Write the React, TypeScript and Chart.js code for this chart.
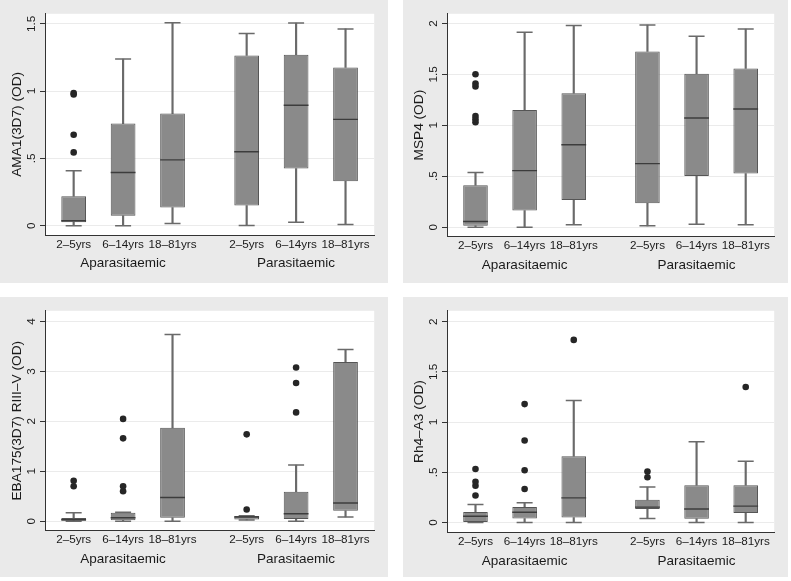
import React, { useEffect, useRef } from "react";
import { Chart, registerables } from "chart.js";

Chart.register(...registerables);

// ---------- data ----------
const categories = ["2–5yrs", "6–14yrs", "18–81yrs", "2–5yrs", "6–14yrs", "18–81yrs"];
const positions = [1, 2, 3, 4.5, 5.5, 6.5];
const groups = ["Aparasitaemic", "Parasitaemic"];
const groupPositions = [2, 5.5];

// AMA1(3D7)
const ama1Min = [0, 0, 0.017, 0.002, 0.027, 0.01];
const ama1Q1 = [0.027, 0.074, 0.135, 0.15, 0.425, 0.33];
const ama1Med = [0.037, 0.396, 0.489, 0.55, 0.895, 0.79];
const ama1Q3 = [0.219, 0.759, 0.833, 1.265, 1.27, 1.175];
const ama1Max = [0.408, 1.238, 1.508, 1.427, 1.506, 1.462];
const ama1Out = [[0.545, 0.676, 0.975, 0.985], [], [], [], [], []];
const ama1Ticks = [0, 0.5, 1, 1.5];
const ama1TickLabels = ["0", ".5", "1", "1.5"];

// MSP4
const msp4Min = [0, 0, 0.023, 0.013, 0.029, 0.023];
const msp4Q1 = [0.013, 0.162, 0.266, 0.234, 0.503, 0.526];
const msp4Med = [0.055, 0.555, 0.808, 0.623, 1.071, 1.159];
const msp4Q3 = [0.412, 1.149, 1.315, 1.724, 1.506, 1.558];
const msp4Max = [0.536, 1.912, 1.98, 1.984, 1.873, 1.945];
const msp4Out = [[1.03, 1.06, 1.09, 1.38, 1.41, 1.5], [], [], [], [], []];
const msp4Ticks = [0, 0.5, 1, 1.5, 2];
const msp4TickLabels = ["0", ".5", "1", "1.5", "2"];

// EBA175(3D7) RIII-V
const ebaMin = [0, 0, 0, 0.026, 0, 0.085];
const ebaQ1 = [0.007, 0.02, 0.07, 0.033, 0.045, 0.208];
const ebaMed = [0.03, 0.07, 0.475, 0.085, 0.15, 0.364];
const ebaQ3 = [0.065, 0.17, 1.87, 0.104, 0.59, 3.19];
const ebaMax = [0.17, 0.18, 3.74, 0.11, 1.125, 3.44];
const ebaOut = [[0.7, 0.81], [0.6, 0.7, 1.66, 2.05], [], [0.234, 1.74], [2.18, 2.77, 3.08], []];
const ebaTicks = [0, 1, 2, 3, 4];
const ebaTickLabels = ["0", "1", "2", "3", "4"];

// Rh4-A3
const rh4Min = [0, 0, 0, 0.04, 0, 0];
const rh4Q1 = [0, 0.039, 0.049, 0.135, 0.036, 0.094];
const rh4Med = [0.062, 0.101, 0.245, 0.153, 0.134, 0.163];
const rh4Q3 = [0.105, 0.154, 0.66, 0.225, 0.371, 0.371];
const rh4Max = [0.18, 0.196, 1.215, 0.352, 0.805, 0.609];
const rh4Out = [[0.268, 0.366, 0.405, 0.533], [0.333, 0.52, 0.817, 1.179], [1.818], [0.45, 0.508], [], [1.349]];
const rh4Ticks = [0, 0.5, 1, 1.5, 2];
const rh4TickLabels = ["0", ".5", "1", "1.5", "2"];

// ---------- style ----------
const FONT = "'Liberation Sans', Arial, Helvetica, sans-serif";
const PANEL_BG = "#eaeaea";
const GRID = "#ebebeb";
const AXIS = "#333333";
const TEXT = "#1a1a1a";
const BOX_FILL = "#8a8a8a";
const BOX_BORDER = "#555555";
const WHISKER = "#6a6a6a";
const MEDIAN = "#3c3c3c";
const DOT = "#262626";

type PanelSpec = {
  left: number;
  top: number;
  width: number;
  height: number;
  area: { left: number; right: number; top: number; bottom: number };
  yMin: number;
  yMax: number;
  yTicks: number[];
  yTickLabels: string[];
  yTitle: string;
  mins: number[];
  q1: number[];
  med: number[];
  q3: number[];
  maxs: number[];
  outliers: number[][];
};

const panels: PanelSpec[] = [
  {
    left: 0, top: 0, width: 388, height: 283,
    area: { left: 45, right: 380, top: 12, bottom: 235 },
    yMin: -0.0685, yMax: 1.574,
    yTicks: ama1Ticks, yTickLabels: ama1TickLabels, yTitle: "AMA1(3D7) (OD)",
    mins: ama1Min, q1: ama1Q1, med: ama1Med, q3: ama1Q3, maxs: ama1Max, outliers: ama1Out,
  },
  {
    left: 403, top: 0, width: 385, height: 283,
    area: { left: 44, right: 377, top: 13, bottom: 236.5 },
    yMin: -0.092, yMax: 2.094,
    yTicks: msp4Ticks, yTickLabels: msp4TickLabels, yTitle: "MSP4 (OD)",
    mins: msp4Min, q1: msp4Q1, med: msp4Med, q3: msp4Q3, maxs: msp4Max, outliers: msp4Out,
  },
  {
    left: 0, top: 297, width: 388, height: 280,
    area: { left: 45, right: 380, top: 8, bottom: 233.7 },
    yMin: -0.19, yMax: 4.215,
    yTicks: ebaTicks, yTickLabels: ebaTickLabels, yTitle: "EBA175(3D7) RIII–V (OD)",
    mins: ebaMin, q1: ebaQ1, med: ebaMed, q3: ebaQ3, maxs: ebaMax, outliers: ebaOut,
  },
  {
    left: 403, top: 297, width: 385, height: 280,
    area: { left: 44, right: 377, top: 9.7, bottom: 235.3 },
    yMin: -0.098, yMax: 2.108,
    yTicks: rh4Ticks, yTickLabels: rh4TickLabels, yTitle: "Rh4–A3 (OD)",
    mins: rh4Min, q1: rh4Q1, med: rh4Med, q3: rh4Q3, maxs: rh4Max, outliers: rh4Out,
  },
];

const X_MIN = 0.42;
const X_MAX = 7.08;
const TICK_LEN = 5;

const stataPlugin = {
  id: "stataDecor",
  beforeDraw(chart: any, _args: any, opts: any) {
    const { ctx, chartArea: a, width, height } = chart;
    ctx.save();
    ctx.fillStyle = PANEL_BG;
    ctx.fillRect(0, 0, width, height);
    ctx.fillStyle = "#ffffff";
    ctx.fillRect(a.left, a.top, a.right - a.left, a.bottom - a.top);
    ctx.restore();
  },
  afterDraw(chart: any, _args: any, opts: any) {
    const { ctx, chartArea: a, scales } = chart;
    const ys = scales.y;
    const xs = scales.x;
    ctx.save();
    ctx.fillStyle = TEXT;
    ctx.textAlign = "center";
    ctx.textBaseline = "middle";

    // rotated y tick labels
    ctx.font = `11.7px ${FONT}`;
    opts.yTicks.forEach((v: number, i: number) => {
      const py = ys.getPixelForValue(v);
      ctx.save();
      ctx.translate(a.left - 13, py);
      ctx.rotate(-Math.PI / 2);
      ctx.fillText(opts.yTickLabels[i], 0, 0);
      ctx.restore();
    });

    // y title
    ctx.font = `13.7px ${FONT}`;
    ctx.save();
    ctx.translate(a.left - 28, (a.top + a.bottom) / 2);
    ctx.rotate(-Math.PI / 2);
    ctx.fillText(opts.yTitle, 0, 0);
    ctx.restore();

    // category labels
    ctx.font = `11.7px ${FONT}`;
    categories.forEach((c, i) => {
      ctx.fillText(c, xs.getPixelForValue(positions[i]), a.bottom + 9.5);
    });

    // group labels
    ctx.font = `13.5px ${FONT}`;
    groups.forEach((g, i) => {
      ctx.fillText(g, xs.getPixelForValue(groupPositions[i]), a.bottom + 28.5);
    });
    ctx.restore();
  },
};

function Panel({ spec }: { spec: PanelSpec }) {
  const ref = useRef<HTMLCanvasElement | null>(null);

  useEffect(() => {
    if (!ref.current) return;
    const s = spec;
    const boxes = positions.map((x, i) => ({ x, y: [s.q1[i], s.q3[i]] }));
    const lowW = positions.map((x, i) => ({ x, y: [s.mins[i], s.q1[i]] }));
    const highW = positions.map((x, i) => ({ x, y: [s.q3[i], s.maxs[i]] }));
    const medians = positions.map((x, i) => ({ x, y: s.med[i] }));
    const caps = positions.flatMap((x, i) => [
      { x, y: s.mins[i] },
      { x, y: s.maxs[i] },
    ]);
    const outs = positions.flatMap((x, i) => s.outliers[i].map((v) => ({ x, y: v })));

    const chart = new Chart(ref.current, {
      type: "bar",
      data: {
        datasets: [
          {
            type: "scatter",
            label: "outliers",
            data: outs,
            pointStyle: "circle",
            pointRadius: 3.3,
            pointBackgroundColor: DOT,
            pointBorderColor: DOT,
            pointBorderWidth: 0,
          } as any,
          {
            type: "scatter",
            label: "median",
            data: medians,
            pointStyle: "line",
            pointRadius: 12.4,
            pointBorderColor: MEDIAN,
            pointBorderWidth: 1.4,
          } as any,
          {
            type: "bar",
            label: "box",
            data: boxes,
            backgroundColor: BOX_FILL,
            borderColor: BOX_BORDER,
            borderWidth: 1,
            borderSkipped: false,
            grouped: false,
            categoryPercentage: 1,
            barPercentage: 0.5,
          } as any,
          {
            type: "scatter",
            label: "caps",
            data: caps,
            pointStyle: "line",
            pointRadius: 8,
            pointBorderColor: WHISKER,
            pointBorderWidth: 1.5,
          } as any,
          {
            type: "bar",
            label: "lower whisker",
            data: lowW,
            backgroundColor: WHISKER,
            borderWidth: 0,
            grouped: false,
            categoryPercentage: 1,
            barPercentage: 1,
            maxBarThickness: 1.5,
          } as any,
          {
            type: "bar",
            label: "upper whisker",
            data: highW,
            backgroundColor: WHISKER,
            borderWidth: 0,
            grouped: false,
            categoryPercentage: 1,
            barPercentage: 1,
            maxBarThickness: 1.5,
          } as any,
        ],
      },
      options: {
        responsive: false,
        animation: false,
        devicePixelRatio: 1,
        events: [],
        layout: {
          padding: {
            left: s.area.left - TICK_LEN,
            right: s.width - s.area.right,
            top: s.area.top,
            bottom: s.height - s.area.bottom,
          },
        },
        plugins: {
          legend: { display: false },
          tooltip: { enabled: false },
          stataDecor: {
            yTicks: s.yTicks,
            yTickLabels: s.yTickLabels,
            yTitle: s.yTitle,
          },
        } as any,
        scales: {
          x: {
            type: "linear",
            min: X_MIN,
            max: X_MAX,
            offset: false,
            afterBuildTicks: (axis: any) => {
              axis.ticks = positions.map((v) => ({ value: v }));
            },
            ticks: { display: false },
            grid: { display: false, drawTicks: false },
            border: { display: true, color: AXIS, width: 1 },
            title: { display: false },
          },
          y: {
            type: "linear",
            min: s.yMin,
            max: s.yMax,
            afterBuildTicks: (axis: any) => {
              axis.ticks = s.yTicks.map((v) => ({ value: v }));
            },
            ticks: { display: false },
            grid: {
              display: true,
              color: GRID,
              lineWidth: 1,
              drawTicks: true,
              tickLength: TICK_LEN,
              tickColor: AXIS,
              tickWidth: 1,
            },
            border: { display: true, color: AXIS, width: 1 },
            title: { display: false },
          },
        },
      } as any,
      plugins: [stataPlugin as any],
    });
    return () => chart.destroy();
  }, [spec]);

  return (
    <canvas
      ref={ref}
      width={spec.width}
      height={spec.height}
      style={{
        position: "absolute",
        left: spec.left,
        top: spec.top,
        width: spec.width,
        height: spec.height,
        display: "block",
      }}
    />
  );
}

export default function App() {
  return (
    <div
      style={{
        position: "fixed",
        left: 0,
        top: 0,
        width: 791,
        height: 581,
        background: "#ffffff",
        overflow: "hidden",
      }}
    >
      {panels.map((p, i) => (
        <Panel key={i} spec={p} />
      ))}
    </div>
  );
}
